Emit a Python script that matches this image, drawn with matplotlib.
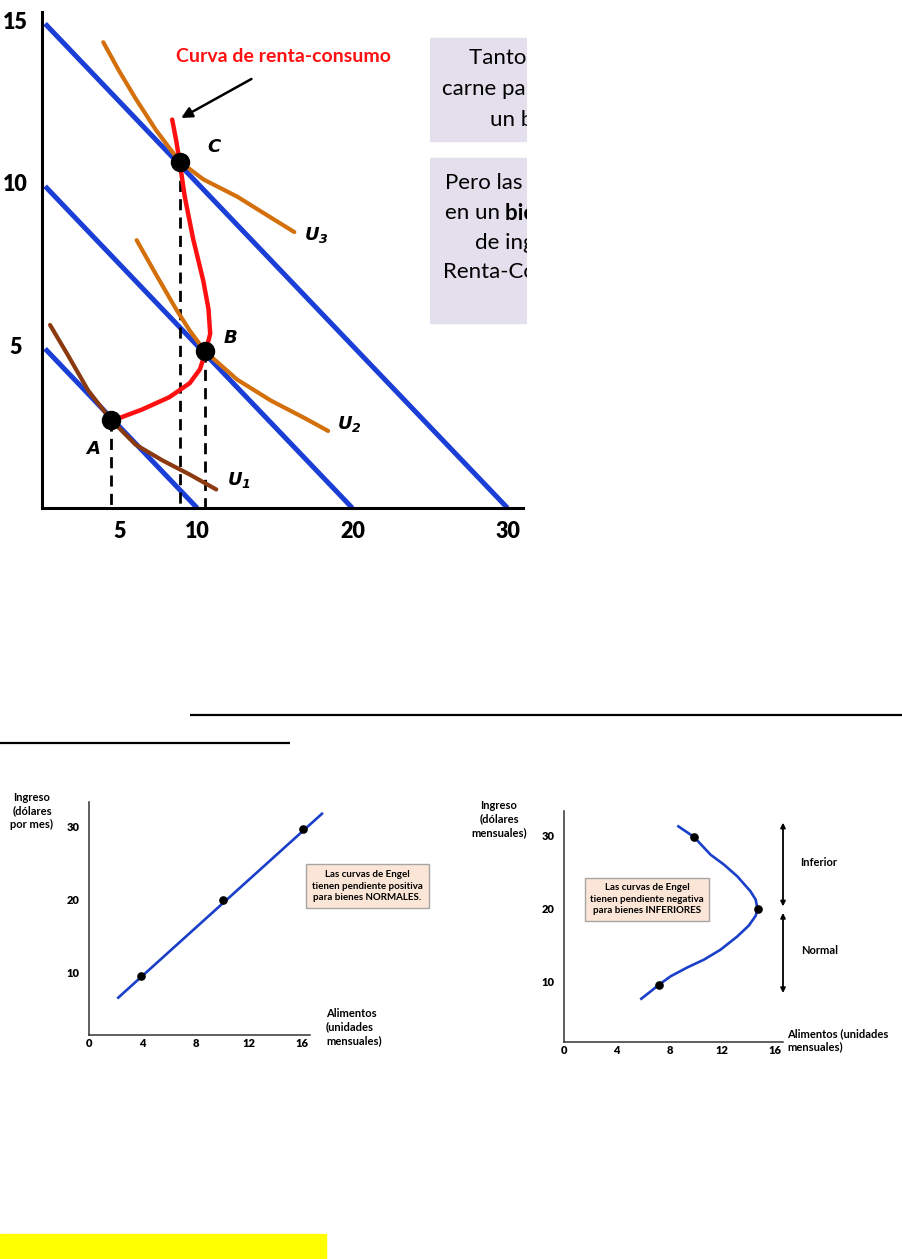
import matplotlib.pyplot as plt
from matplotlib.patches import Rectangle

W, H = 903, 1259

plt.rcParams['font.family'] = ['Lato', 'DejaVu Sans']
plt.rcParams['axes.facecolor'] = 'none'
plt.rcParams['mathtext.fontset'] = 'custom'
plt.rcParams['mathtext.it'] = 'DejaVu Sans:italic:bold'
plt.rcParams['mathtext.rm'] = 'DejaVu Sans:italic:bold'

# ---- top chart: budget lines, indifference curves, income-consumption curve
budget_y0 = [5, 10, 15]      # vertical intercepts
budget_x0 = [10, 20, 30]     # horizontal intercepts
top_xticks = [5, 10, 20, 30]
top_yticks = [5, 10, 15]

u1_x = [0.52, 1.66, 2.97, 4.45, 6.03, 7.78, 9.52, 11.23]
u1_y = [5.63, 4.71, 3.62, 2.71, 1.95, 1.46, 1.03, 0.57]
u2_x = [6.10, 7.34, 8.65, 9.52, 10.51, 12.58, 14.77, 16.95, 18.44]
u2_y = [8.24, 7.19, 6.11, 5.46, 4.82, 3.95, 3.30, 2.76, 2.37]
u3_x = [3.95, 4.94, 6.03, 7.34, 8.87, 10.40, 12.58, 14.77, 16.26]
u3_y = [14.33, 13.47, 12.60, 11.63, 10.66, 10.11, 9.58, 8.93, 8.49]

renta_x = [8.39, 8.65, 8.87, 9.20, 9.74, 10.40, 10.73, 10.84, 10.55,
           10.18, 9.52, 8.21, 6.45, 4.94, 4.46]
renta_y = [11.95, 11.30, 10.66, 9.58, 8.28, 6.98, 6.12, 5.36, 4.82,
           4.27, 3.84, 3.41, 3.03, 2.76, 2.69]

pts_name = ['A', 'B', 'C']
pts_x = [4.45, 10.50, 8.87]
pts_y = [2.71, 4.82, 10.66]

# ---- Engel curves
normal_line_x = [2.2, 17.5]
normal_line_y = [6.6, 31.7]
normal_pts_x = [3.9, 10.1, 16.1]
normal_pts_y = [9.6, 19.9, 29.6]

inf_x = [5.86, 6.57, 7.20, 8.08, 9.36, 10.61, 11.87, 13.14, 14.02, 14.53,
         14.67, 14.53, 14.14, 13.14, 12.13, 11.11, 9.85, 8.67]
inf_y = [7.62, 8.63, 9.55, 10.70, 11.93, 12.99, 14.36, 16.18, 17.69, 19.02,
         19.95, 21.22, 22.36, 24.42, 26.03, 27.40, 29.84, 31.29]
inf_pts_x = [7.20, 14.67, 9.85]
inf_pts_y = [9.55, 19.95, 29.84]

engel_xticks = [0, 4, 8, 12, 16]
engel_yticks = [10, 20, 30]

BLUE = '#1b3fd6'
ORANGE = '#d4700b'
BROWN = '#8b3a10'
RED = '#ff1010'

fig = plt.figure(figsize=(W / 100, H / 100), dpi=100)
fig.patch.set_facecolor('white')


def px_axes(x0, y0, x1, y1):
    return fig.add_axes([x0 / W, 1 - y1 / H, (x1 - x0) / W, (y1 - y0) / H])


# background layer in pixel coordinates
bg = px_axes(0, 0, W, H)
bg.set_xlim(0, W)
bg.set_ylim(H, 0)
bg.axis('off')

# ================= top chart =================
ax = px_axes(42, 12, 523, 508)
ax.set_xlim(0, 31.0)
ax.set_ylim(0, 15.26)
for s in ['top', 'right']:
    ax.spines[s].set_visible(False)
for s in ['left', 'bottom']:
    ax.spines[s].set_linewidth(2.2)
ax.set_xticks(top_xticks, labels=[str(t) for t in top_xticks],
              fontweight='heavy', fontsize=15.5)
ax.set_yticks(top_yticks, labels=[str(t) for t in top_yticks],
              fontweight='heavy', fontsize=15.5, ha='center')
ax.tick_params(length=0)
ax.tick_params(axis='x', pad=9)
ax.tick_params(axis='y', pad=19)

for y0, x0 in zip(budget_y0, budget_x0):
    ax.plot([0.2, x0], [y0 - 0.2 * y0 / x0, 0], color=BLUE, lw=3.6,
            solid_capstyle='butt', clip_on=False, zorder=2)

for px, py in zip(pts_x, pts_y):
    ax.plot([px, px], [py, 0], color='black', lw=2, dashes=(4, 2.6), zorder=3)

ax.plot(u1_x, u1_y, color=BROWN, lw=3, solid_capstyle='round', zorder=4)
ax.plot(u2_x, u2_y, color=ORANGE, lw=3, solid_capstyle='round', zorder=4)
ax.plot(u3_x, u3_y, color=ORANGE, lw=3, solid_capstyle='round', zorder=4)
ax.plot(renta_x, renta_y, color=RED, lw=3.2, solid_capstyle='round',
        solid_joinstyle='round', zorder=5)
ax.plot(pts_x, pts_y, 'o', color='black', ms=13, zorder=6)

lab_off = {'A': (-18, -29), 'B': (26, 13), 'C': (34, 15)}
for n, px, py in zip(pts_name, pts_x, pts_y):
    dx, dy = lab_off[n]
    ax.annotate(n, (px, py), xytext=(dx, dy), textcoords='offset pixels',
                ha='center', va='center', fontsize=13, fontweight='bold',
                fontstyle='italic', family='DejaVu Sans')

ax.text(u1_x[-1] + 0.7, u1_y[-1] + 0.3, r'$U_1$', fontsize=13, va='center')
ax.text(u2_x[-1] + 0.6, u2_y[-1] + 0.2, r'$U_2$', fontsize=13, va='center')
ax.text(u3_x[-1] + 0.6, u3_y[-1] - 0.1, r'$U_3$', fontsize=13, va='center')

ax.text(15.55, 13.9, 'Curva de renta-consumo', color=RED, fontsize=14,
        fontweight='bold', ha='center', va='center')
ax.annotate('', xy=(8.97, 12.0), xytext=(13.5, 13.2),
            arrowprops=dict(arrowstyle='-|>', color='black', lw=1.8,
                            mutation_scale=16, shrinkA=0, shrinkB=0))

# clipped text boxes at the right
tb = px_axes(430, 30, 527, 330)
tb.set_xlim(430, 527)
tb.set_ylim(330, 30)
tb.axis('off')
tb.add_patch(Rectangle((430, 38), 97, 103, color='#e4dfec'))
tb.add_patch(Rectangle((430, 158), 97, 165, color='#e4dfec'))
box_lines = [
    (469, 58, 'Tanto la hamburguesa como la', 'normal'),
    (442, 89, 'carne para asar se comportan como', 'normal'),
    (490, 120, 'un bien normal entre A y B', 'normal'),
    (445, 183, 'Pero las hamburguesas se convierten', 'normal'),
    (445, 213, 'en un', 'normal'),
    (505, 213, 'bien inferior cuando el nivel', 'bold'),
    (475, 243, 'de ingreso aumenta y la curva de', 'normal'),
    (443, 272, 'Renta-Consumo se vuelve hacia atr\u00e1s', 'normal'),
]
for x, y, s, w in box_lines:
    tb.text(x, y, s, fontsize=16, fontweight=w, ha='left', va='center',
            clip_on=True)

# rules and highlight
bg.plot([190, 903], [715, 715], color='black', lw=1.6, solid_capstyle='butt')
bg.plot([0, 290], [743, 743], color='black', lw=1.6, solid_capstyle='butt')
bg.add_patch(Rectangle((0, 1234), 326, 25, color='#ffff00'))


def engel_axes(x0, y0, x1, y1, ylo, yhi):
    e = px_axes(x0, y0, x1, y1)
    e.set_xlim(0, 16.6)
    e.set_ylim(ylo, yhi)
    for s in ['top', 'right']:
        e.spines[s].set_visible(False)
    for s in ['left', 'bottom']:
        e.spines[s].set_linewidth(1.1)
        e.spines[s].set_color('#333333')
    e.set_xticks(engel_xticks, labels=[str(t) for t in engel_xticks],
                 fontweight='heavy', fontsize=8)
    e.set_yticks(engel_yticks, labels=[str(t) for t in engel_yticks],
                 fontweight='heavy', fontsize=8)
    e.tick_params(length=0)
    e.tick_params(axis='x', pad=2)
    e.tick_params(axis='y', pad=7)
    return e


# ================= Engel: normal good =================
e1 = engel_axes(89, 802, 310, 1035, 1.5, 33.3)
e1.plot(normal_line_x, normal_line_y, color='#1a3fc8', lw=1.9, clip_on=False)
e1.plot(normal_pts_x, normal_pts_y, 'o', color='black', ms=5.2, clip_on=False)

bg.text(32, 811, 'Ingreso\n(d\u00f3lares\npor mes)', ha='center', va='center',
        fontsize=8, fontweight='bold', linespacing=1.25)
bg.text(326, 1027, 'Alimentos\n(unidades\nmensuales)', ha='left', va='center',
        fontsize=8, fontweight='bold', linespacing=1.25)
bg.add_patch(Rectangle((306, 864), 123, 44, facecolor='#fbe5d6',
                       edgecolor='#a6a6a6', lw=1))
bg.text(367.5, 886, 'Las curvas de Engel\ntienen pendiente positiva\npara bienes NORMALES.',
        ha='center', va='center', fontsize=7, fontweight='bold',
        linespacing=1.35)

# ================= Engel: inferior good =================
e2 = engel_axes(564, 811, 783, 1042, 1.68, 33.4)
e2.plot(inf_x, inf_y, color='#1a3fc8', lw=1.9, solid_joinstyle='round')
e2.plot(inf_pts_x, inf_pts_y, 'o', color='black', ms=5.2)
for ya, yb in [(31.8, 20.3), (19.4, 8.4)]:
    e2.annotate('', xy=(16.6, yb), xytext=(16.6, ya), annotation_clip=False,
                arrowprops=dict(arrowstyle='<|-|>', color='black', lw=1.3,
                                mutation_scale=7, shrinkA=0, shrinkB=0))
e2.text(17.9, 26.3, 'Inferior', fontsize=8, fontweight='bold', va='center')
e2.text(17.95, 14.2, 'Normal', fontsize=8, fontweight='bold', va='center')

bg.text(499, 819, 'Ingreso\n(d\u00f3lares\nmensuales)', ha='center', va='center',
        fontsize=8, fontweight='bold', linespacing=1.25)
bg.text(787, 1040, 'Alimentos (unidades\nmensuales)', ha='left', va='center',
        fontsize=8, fontweight='bold', linespacing=1.25)
bg.add_patch(Rectangle((585, 877.5), 124, 43.5, facecolor='#fbe5d6',
                       edgecolor='#a6a6a6', lw=1))
bg.text(647, 899, 'Las curvas de Engel\ntienen pendiente negativa\npara bienes INFERIORES',
        ha='center', va='center', fontsize=7, fontweight='bold',
        linespacing=1.35)

fig.savefig('out.png', dpi=100)
